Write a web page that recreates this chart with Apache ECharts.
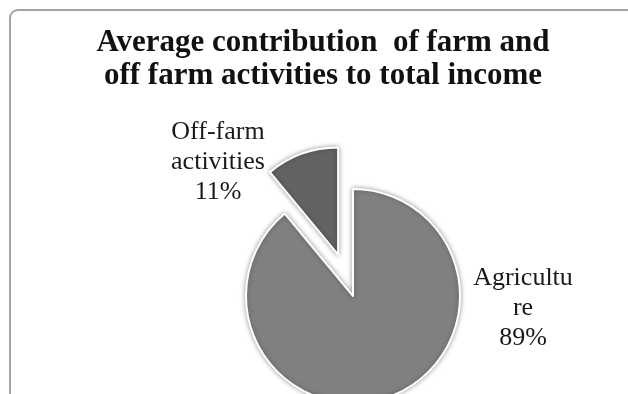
<!DOCTYPE html>
<html>
<head>
<meta charset="utf-8">
<script src="https://cdn.jsdelivr.net/npm/echarts@6/dist/echarts.min.js"></script>
<style>html,body{margin:0;padding:0;background:#fff}#c{width:628px;height:394px}</style>
</head>
<body>
<div id="c"></div>
<script>
const titleLines = ['Average contribution  of farm and', 'off farm activities to total income'];
const categories = ['Agriculture', 'Off-farm activities'];
const values = [89, 11];
const labelTexts = ['Agricultu\nre', 'Off-farm\nactivities'];
const colors = ['#808080', '#636363'];

const chart = echarts.init(document.getElementById('c'));
const labelPos = [[523, 308], [218, 162]];
const total = values.reduce((a, b) => a + b, 0);
const labelGraphics = values.map((v, i) => ({
  type: 'text', silent: true,
  x: labelPos[i][0], y: labelPos[i][1],
  style: {
    text: labelTexts[i] + '\n' + Math.round(v / total * 100) + '%',
    align: 'center', verticalAlign: 'middle',
    fontFamily: 'Liberation Serif', fontSize: 26, lineHeight: 30, fill: '#1a1a1a'
  }
}));
chart.setOption({
  animation: false,
  backgroundColor: '#fff',
  title: {
    text: titleLines.join('\n'),
    left: 318, textAlign: 'center', top: 21,
    textStyle: {fontFamily: 'Liberation Serif', fontWeight: 'bold', fontSize: 31, lineHeight: 33, color: '#111'}
  },
  graphic: [{
    type: 'rect', silent: true,
    shape: {x: 10, y: 10, width: 800, height: 600, r: 8},
    style: {fill: 'none', stroke: '#a4a4a4', lineWidth: 2}
  }].concat(labelGraphics),
  series: [{
    type: 'pie',
    center: [353, 296],
    radius: 107,
    startAngle: 90,
    clockwise: true,
    selectedMode: 'single',
    selectedOffset: 44,
    avoidLabelOverlap: false,
    labelLine: {show: false},
    label: {show: false},
    itemStyle: {borderColor: '#fff', borderWidth: 2, shadowBlur: 5, shadowColor: 'rgba(0,0,0,0.35)'},
    data: categories.map((c, i) => ({name: c, value: values[i], selected: i === 1, itemStyle: {color: colors[i]}}))
  }]
});
</script>
</body>
</html>
